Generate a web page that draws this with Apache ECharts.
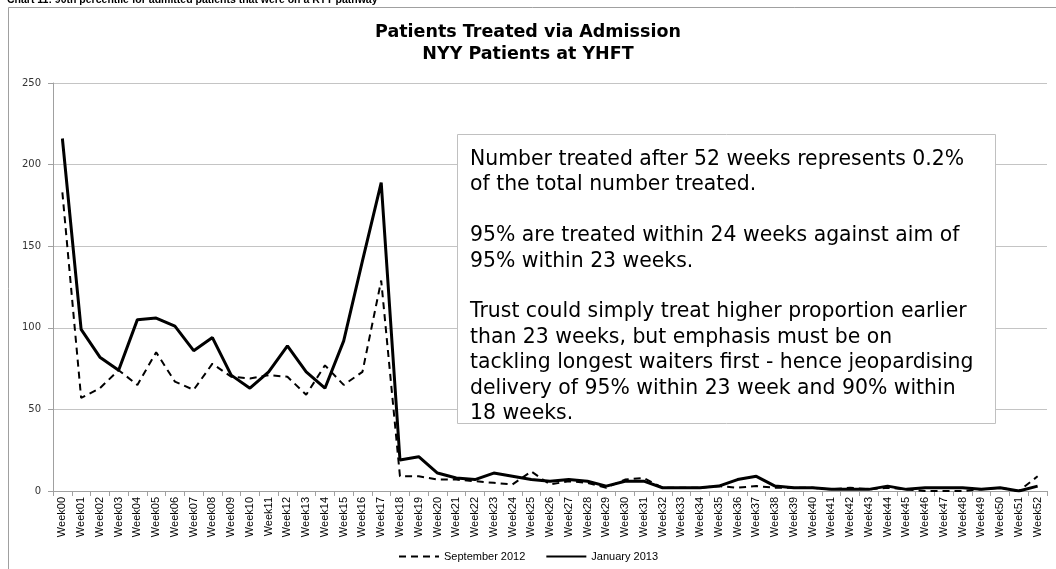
<!DOCTYPE html>
<html>
<head>
<meta charset="utf-8">
<script src="https://cdn.jsdelivr.net/npm/echarts@6/dist/echarts.min.js"></script>
<style>
  html, body { margin: 0; padding: 0; background: #fff; }
  #main { width: 1056px; height: 569px; }
</style>
</head>
<body>
<div id="main"></div>
<script>
// week labels
var weeks = []
for (var i = 0; i <= 52; i++) {
  weeks.push('Week' + (i < 10 ? '0' + i : '' + i))
}

// September 2012 (dashed)
var sep2012 = [183, 57, 63, 74, 65, 85, 67, 62, 78, 70,
  69, 71, 70, 59, 77, 65, 73, 129, 9, 9,
  7, 7, 6, 5, 4, 12, 4, 6, 5, 2,
  7, 8, 2, 2, 2, 3, 2, 3, 2, 2,
  2, 1, 2, 1, 2, 1, 0, 0, 0, 1,
  2, 0, 9]

// January 2013 (solid)
var jan2013 = [216, 99, 82, 74, 105, 106, 101, 86, 94, 71,
  63, 73, 89, 73, 63, 92, 141, 189, 19, 21,
  11, 8, 7, 11, 9, 7, 6, 7, 6, 3,
  6, 6, 2, 2, 2, 3, 7, 9, 3, 2,
  2, 1, 1, 1, 3, 1, 2, 2, 2, 1,
  2, 0, 3]

var yTicks = [0, 50, 100, 150, 200, 250]

var noteLines = [
  'Number treated after 52 weeks represents 0.2%',
  'of the total number treated.',
  '',
  '95% are treated within 24 weeks against aim of',
  '95% within 23 weeks.',
  '',
  'Trust could simply treat higher proportion earlier',
  'than 23 weeks, but emphasis must be on',
  'tackling longest waiters first - hence jeopardising',
  'delivery of 95% within 23 week and 90% within',
  '18 weeks.'
]

var chart = echarts.init(document.getElementById('main'))

var option = {
  animation: false,
  backgroundColor: '#fff',
  title: {
    text: 'Patients Treated via Admission\nNYY Patients at YHFT',
    left: 'center',
    top: 16,
    textStyle: {
      fontFamily: 'DejaVu Sans',
      fontWeight: 'bold',
      fontSize: 17.5,
      lineHeight: 22,
      color: '#000'
    }
  },
  legend: {
    bottom: 2,
    left: 'center',
    itemWidth: 40,
    itemHeight: 10,
    itemGap: 20,
    itemStyle: { opacity: 0 },
    textStyle: { fontFamily: 'Liberation Sans', fontSize: 11, color: '#000' },
    data: ['September 2012', 'January 2013']
  },
  grid: {
    left: 53,
    right: 9,
    top: 83,
    bottom: 78
  },
  xAxis: {
    type: 'category',
    data: weeks,
    boundaryGap: true,
    axisLine: { lineStyle: { color: '#a0a0a0' } },
    axisTick: { show: true, length: 5, interval: 0, lineStyle: { color: '#a0a0a0' } },
    axisLabel: {
      interval: 0,
      rotate: 90,
      margin: 6,
      fontFamily: 'Liberation Sans',
      fontSize: 11,
      color: '#000'
    }
  },
  yAxis: {
    type: 'value',
    min: yTicks[0],
    max: yTicks[yTicks.length - 1],
    interval: 50,
    axisLine: { show: true, lineStyle: { color: '#a0a0a0' } },
    axisTick: { show: true, length: 5, lineStyle: { color: '#a0a0a0' } },
    splitLine: { lineStyle: { color: '#c4c4c4' } },
    axisLabel: { fontFamily: 'DejaVu Sans', fontSize: 10, color: '#333', margin: 12 }
  },
  series: [
    {
      name: 'September 2012',
      type: 'line',
      data: sep2012,
      symbol: 'none',
      lineStyle: { color: '#000', width: 2, type: [7, 5] },
      itemStyle: { color: '#000' },
      z: 2
    },
    {
      name: 'January 2013',
      type: 'line',
      data: jan2013,
      symbol: 'none',
      lineStyle: { color: '#000', width: 3 },
      itemStyle: { color: '#000' },
      z: 3
    }
  ],
  graphic: [
    {
      type: 'text',
      left: 7,
      top: -5,
      style: {
        text: 'Chart 11: 90th percentile for admitted patients that were on a RTT pathway',
        font: 'bold 10.5px "Liberation Sans"',
        fill: '#000'
      }
    },
    {
      type: 'rect',
      shape: { x: 8.5, y: 7.5, width: 1100, height: 600 },
      style: { fill: 'none', stroke: '#a0a0a0', lineWidth: 1 },
      z: 0
    },
    {
      type: 'rect',
      shape: { x: 457.5, y: 134.5, width: 538, height: 289 },
      style: { fill: '#fff', stroke: '#c0c0c0', lineWidth: 1 },
      z: 10
    },
    {
      type: 'text',
      x: 470,
      y: 147,
      style: {
        text: noteLines.join('\n'),
        font: '20.4px "DejaVu Sans"',
        lineHeight: 25.4,
        fill: '#000'
      },
      z: 11
    }
  ]
}

chart.setOption(option)
</script>
</body>
</html>
